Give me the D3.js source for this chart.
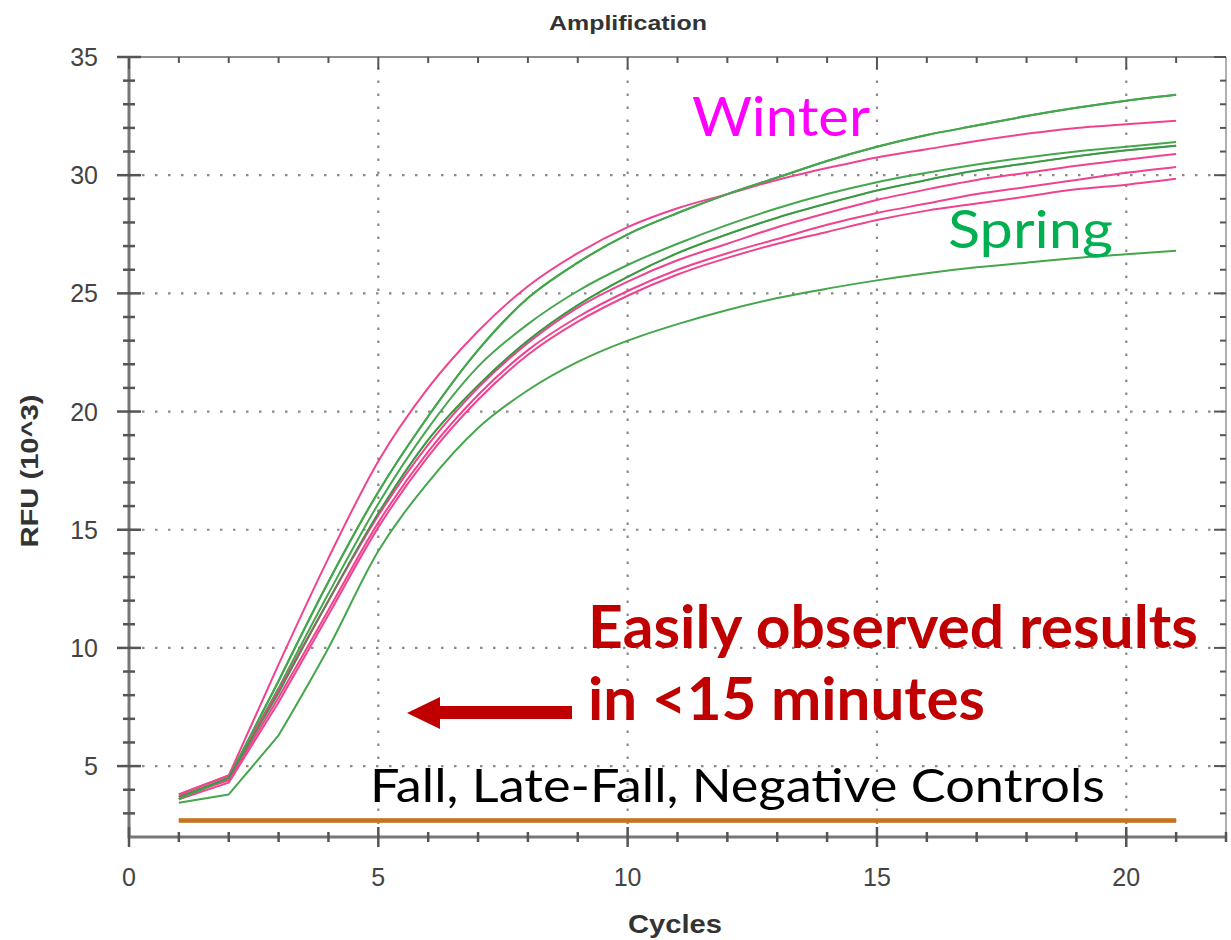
<!DOCTYPE html>
<html><head><meta charset="utf-8">
<script src="https://cdn.jsdelivr.net/npm/d3@7"></script>
<style>body{margin:0;background:#fff}svg{display:block}</style></head>
<body>
<svg id="c" width="1231" height="940"></svg>
<script>
// ---- data ----
const cycles = [1,2,3,4,5,6,7,8,9,10,11,12,13,14,15,16,17,18,19,20,21];
// Winter (pink)
const winter1 = [3.8,4.6,9.3,13.8,17.9,21.0,23.4,25.3,26.7,27.8,28.6,29.2,29.8,30.3,30.75,31.1,31.45,31.75,32.0,32.15,32.3];
const winter2 = [3.8,4.6,8.2,12.0,15.6,18.6,21.0,22.9,24.4,25.5,26.4,27.1,27.8,28.4,28.95,29.4,29.8,30.1,30.4,30.65,30.9];
const winter3 = [3.7,4.4,7.9,11.6,15.3,18.3,20.7,22.6,24.0,25.1,26.0,26.7,27.3,27.9,28.4,28.8,29.2,29.5,29.8,30.1,30.35];
const winter4 = [3.6,4.3,7.7,11.4,15.1,18.1,20.5,22.4,23.8,24.9,25.8,26.5,27.1,27.6,28.1,28.5,28.8,29.1,29.4,29.6,29.85];
// Spring (green)
const spring1 = [3.6,4.5,8.6,12.8,16.6,19.8,22.6,24.8,26.3,27.5,28.4,29.2,29.9,30.6,31.2,31.7,32.1,32.5,32.85,33.15,33.4];
const spring2 = [3.6,4.5,8.3,12.3,16.1,19.3,21.9,23.7,25.1,26.2,27.1,27.9,28.6,29.2,29.7,30.1,30.45,30.75,31.0,31.2,31.4];
const spring3 = [3.7,4.5,8.1,12.0,15.7,18.8,21.1,23.0,24.5,25.7,26.7,27.5,28.2,28.8,29.35,29.8,30.2,30.5,30.8,31.05,31.25];
const spring4 = [3.45,3.8,6.3,10.0,14.1,17.0,19.3,20.9,22.1,23.0,23.7,24.3,24.8,25.2,25.55,25.85,26.1,26.3,26.5,26.65,26.8];
// Fall, Late-Fall, Negative Controls (orange)
const fall     = [2.72,2.72,2.72,2.72,2.72,2.72,2.72,2.72,2.72,2.72,2.72,2.72,2.72,2.72,2.72,2.72,2.72,2.72,2.72,2.72,2.72];
const lateFall = [2.70,2.70,2.70,2.70,2.70,2.70,2.70,2.70,2.70,2.70,2.70,2.70,2.70,2.70,2.70,2.70,2.70,2.70,2.70,2.70,2.70];
const negative = [2.68,2.68,2.68,2.68,2.68,2.68,2.68,2.68,2.68,2.68,2.68,2.68,2.68,2.68,2.68,2.68,2.68,2.68,2.68,2.68,2.68];

const xTicks = [0,5,10,15,20];
const yTicks = [5,10,15,20,25,30,35];
const xMinor = [1,2,3,4,6,7,8,9,11,12,13,14,16,17,18,19,21];
const yMinor = [3,4,6,7,8,9,11,12,13,14,16,17,18,19,21,22,23,24,26,27,28,29,31,32,33,34];

// ---- chart ----
const svg = d3.select("#c");
const x = d3.scaleLinear().domain([0,22]).range([129,1226]);
const y = d3.scaleLinear().domain([2,35]).range([837,57]);

const gGrid = svg.append("g");
yTicks.filter(v=>v<35).forEach(v=>{
  gGrid.append("line").attr("x1",x(0)).attr("x2",x(22)).attr("y1",y(v)).attr("y2",y(v))
    .attr("stroke","#8a8a8a").attr("stroke-width",2.2).attr("stroke-dasharray","2.5 10.5");
});
xTicks.filter(v=>v>0).forEach(v=>{
  gGrid.append("line").attr("y1",y(2)).attr("y2",y(35)).attr("x1",x(v)).attr("x2",x(v))
    .attr("stroke","#8a8a8a").attr("stroke-width",2.2).attr("stroke-dasharray","2.5 10.5");
});

// frame
const gF = svg.append("g");
gF.append("line").attr("x1",x(0)).attr("x2",x(22)).attr("y1",y(35)).attr("y2",y(35)).attr("stroke","#8c8c8c").attr("stroke-width",2);
gF.append("line").attr("x1",x(22)).attr("x2",x(22)).attr("y1",y(2)).attr("y2",y(35)).attr("stroke","#b0b0b0").attr("stroke-width",2);
gF.append("line").attr("x1",x(0)-1).attr("x2",x(22)).attr("y1",y(2)).attr("y2",y(2)).attr("stroke","#777").attr("stroke-width",3);
gF.append("line").attr("x1",x(0)).attr("x2",x(0)).attr("y1",y(2)+1).attr("y2",y(35)).attr("stroke","#777").attr("stroke-width",3);

// ticks
const tk = (x1,y1,x2,y2,w)=>gF.append("line").attr("x1",x1).attr("y1",y1).attr("x2",x2).attr("y2",y2).attr("stroke","#555").attr("stroke-width",w||2.5);
xMinor.forEach(v=>{ tk(x(v),y(2)-5,x(v),y(2)+5); tk(x(v),y(35),x(v),y(35)+6,2); });
xTicks.forEach(v=>{ tk(x(v),y(2)-10,x(v),y(2)+10); tk(x(v),y(35),x(v),y(35)+12,2); });
tk(x(22),y(2)-5,x(22),y(2)+5);
yMinor.forEach(v=>{ tk(x(0)-6,y(v),x(0)+6,y(v)); tk(x(22)-6,y(v),x(22),y(v),2); });
yTicks.forEach(v=>{ tk(x(0)-12,y(v),x(0)+12,y(v)); tk(x(22)-12,y(v),x(22),y(v),2); });

// tick labels
const lab = svg.append("g").attr("font-family","Liberation Sans, Arial, sans-serif").attr("font-size",25).attr("fill","#444");
yTicks.forEach(v=>lab.append("text").attr("x",98).attr("y",y(v)+9).attr("text-anchor","end").text(v));
xTicks.forEach(v=>lab.append("text").attr("x",x(v)).attr("y",886).attr("text-anchor","middle").text(v));

// titles
svg.append("text").attr("x",628).attr("y",30).attr("text-anchor","middle")
  .attr("font-family","Liberation Sans, Arial, sans-serif").attr("font-weight","bold").attr("font-size",20)
  .attr("fill","#333").attr("textLength",158).attr("lengthAdjust","spacingAndGlyphs").text("Amplification");
svg.append("text").attr("x",675).attr("y",933).attr("text-anchor","middle")
  .attr("font-family","Liberation Sans, Arial, sans-serif").attr("font-weight","bold").attr("font-size",25)
  .attr("fill","#333").attr("textLength",94).attr("lengthAdjust","spacingAndGlyphs").text("Cycles");
svg.append("text").attr("transform","translate(38,471) rotate(-90)").attr("text-anchor","middle")
  .attr("font-family","Liberation Sans, Arial, sans-serif").attr("font-weight","bold").attr("font-size",23)
  .attr("fill","#333").attr("textLength",153).attr("lengthAdjust","spacingAndGlyphs").text("RFU (10^3)");

// series lines: straight through the first cycles, smooth afterwards
const lineLin = d3.line().x(d=>x(d[0])).y(d=>y(d[1])).curve(d3.curveLinear);
const lineSm  = d3.line().x(d=>x(d[0])).y(d=>y(d[1])).curve(d3.curveMonotoneX);
const pathOf = s => {
  const pts = s.map((v,i)=>[cycles[i],v]);
  return lineLin(pts.slice(0,3)) + lineSm(pts.slice(2)).replace(/^M/,"L");
};
const gL = svg.append("g").attr("fill","none").attr("stroke-linejoin","round");
[fall,lateFall,negative].forEach(s=>gL.append("path").attr("d",lineLin(s.map((v,i)=>[cycles[i],v]))).attr("stroke","#c47420").attr("stroke-width",3.5));
const greens = [spring4,spring3,spring2,spring1];
const pinks = [winter4,winter3,winter2,winter1];
greens.forEach(s=>gL.append("path").attr("d",pathOf(s)).attr("stroke","#45a64d").attr("stroke-width",2));
pinks.forEach(s=>gL.append("path").attr("d",pathOf(s)).attr("stroke","#f0438f").attr("stroke-width",2));
gL.append("path").attr("d",pathOf(spring1)).attr("stroke","#45a64d").attr("stroke-width",2);
gL.append("path").attr("d",pathOf(spring3)).attr("stroke","#3a9444").attr("stroke-width",1.6).attr("opacity",0.8);

// annotations
const ann = svg.append("g").attr("font-family","Lato, 'Open Sans', sans-serif");
ann.append("text").attr("x",692).attr("y",136).attr("font-size",54).attr("fill","#ff00ff")
  .attr("textLength",178).attr("lengthAdjust","spacingAndGlyphs").text("Winter");
ann.append("text").attr("x",948).attr("y",248).attr("font-size",53).attr("fill","#00b050")
  .attr("textLength",165).attr("lengthAdjust","spacingAndGlyphs").text("Spring");
ann.append("text").attr("x",588).attr("y",648).attr("font-size",59).attr("font-weight","bold").attr("fill","#c00000")
  .attr("textLength",610).attr("lengthAdjust","spacingAndGlyphs").text("Easily observed results");
ann.append("text").attr("x",588).attr("y",720).attr("font-size",59).attr("font-weight","bold").attr("fill","#c00000")
  .attr("textLength",397).attr("lengthAdjust","spacingAndGlyphs").text("in <15 minutes");
ann.append("text").attr("x",370).attr("y",802).attr("font-size",46).attr("fill","#000")
  .attr("textLength",735).attr("lengthAdjust","spacingAndGlyphs").text("Fall, Late-Fall, Negative Controls");

// arrow
svg.append("path").attr("d","M572,706 L440,706 L440,697 L407,713 L440,729 L440,719 L572,719 Z").attr("fill","#c00000");
</script>
</body></html>
